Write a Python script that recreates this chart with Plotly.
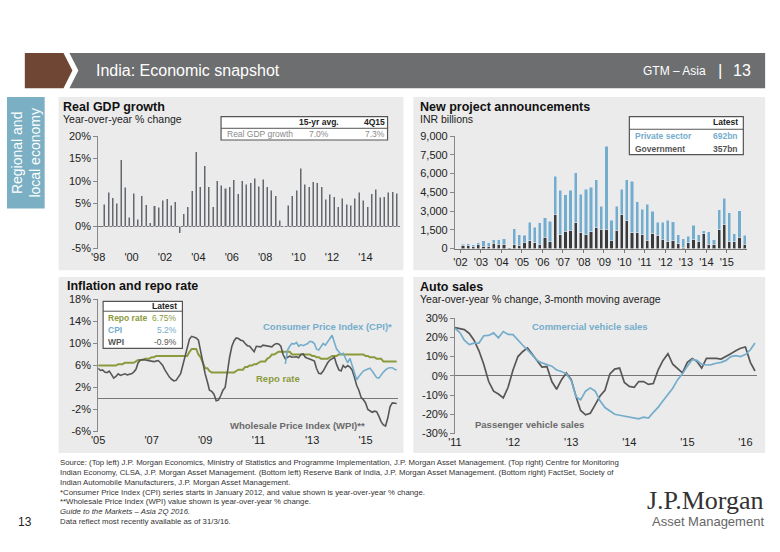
import pandas as pd
import plotly.graph_objects as go

W, H = 780, 552
FONT = "Liberation Sans, Arial, sans-serif"

# ------------------------------------------------------------------ data
gdp_quarters = [str(p) for p in pd.period_range("1998Q2", "2015Q4", freq="Q")]
gdp_growth = [4.9, 7.5, 6.3, 5.1, 14.7, 8.6, 2.0, 7.3, 1.5, 6.7,
              4.8, 0.8, 4.5, 4.2, 5.7, 6.1, 4.6, 5.4, -1.6, 2.7,
              4.3, 7.9, 16.5, 8.7, 13.4, 8.8, 4.3, 10.1, 9.1, 8.4,
              8.8, 10.3, 7.2, 10.1, 9.3, 9.6, 10.6, 8.9, 10.4, 8.7,
              8.0, 6.7, 1.3, 0.0, 4.6, 6.7, 8.0, 12.9, 9.3, 8.7,
              9.9, 9.6, 8.7, 6.0, 7.1, 6.5, 4.3, 6.2, 4.9, 4.6,
              6.2, 7.5, 5.8, 4.3, 7.2, 8.2, 6.4, 6.5, 7.5, 7.6, 7.3]
gdp_xtick_years = ["1998", "2000", "2002", "2004", "2006", "2008", "2010", "2012", "2014"]
gdp_xtick_text = ["'98", "'00", "'02", "'04", "'06", "'08", "'10", "'12", "'14"]
gdp_ytick_vals = [-5, 0, 5, 10, 15, 20]
gdp_ytick_text = ["-5%", "0%", "5%", "10%", "15%", "20%"]

proj_quarters = [str(p) for p in pd.period_range("2002Q1", "2015Q4", freq="Q")]
proj_government = [250, 220, 150, 300, 200, 200, 420, 350, 350, 50,
                   350, 250, 500, 620, 450, 300, 900, 550, 2750, 1120,
                   1400, 1450, 2050, 1250, 1100, 1350, 1650, 1550, 1550, 620,
                   1450, 2700, 2220, 1250, 1250, 1120, 650, 1200, 1050, 750,
                   600, 620, 400, 100, 450, 720, 600, 1200, 350, 300,
                   1500, 1950, 550, 550, 900, 357]
proj_private = [100, 180, 150, 150, 420, 270, 300, 370, 450, 30,
                1250, 850, 550, 1480, 1270, 1750, 1580, 1620, 3050, 3530,
                2900, 3200, 4000, 3100, 3650, 3570, 3850, 1830, 6650, 1650,
                1930, 2050, 3280, 4150, 2500, 2030, 2900, 1800, 1050, 1350,
                1650, 1530, 700, 680, 550, 1160, 500, 220, 1000, 420,
                1600, 2070, 2300, 630, 2120, 692]
proj_xtick_years = [str(y) for y in range(2002, 2016)]
proj_xtick_text = ["'02", "'03", "'04", "'05", "'06", "'07", "'08", "'09", "'10", "'11",
                   "'12", "'13", "'14", "'15"]
proj_ytick_vals = [0, 1500, 3000, 4500, 6000, 7500, 9000]
proj_ytick_text = ["0", "1,500", "3,000", "4,500", "6,000", "7,500", "9,000"]

infl_start, infl_end = "2005-01", "2016-03"
repo_rate = [6.0, 6.0, 6.0, 6.0, 6.0, 6.0, 6.0, 6.0, 6.0, 6.25, 6.25, 6.25,
             6.5, 6.5, 6.5, 6.5, 6.5, 6.75, 7.0, 7.0, 7.0, 7.25, 7.25, 7.25,
             7.5, 7.5, 7.75, 7.75, 7.75, 7.75, 7.75, 7.75, 7.75, 7.75, 7.75, 7.75,
             7.75, 7.75, 7.75, 7.75, 7.75, 8.5, 9.0, 9.0, 9.0, 8.0, 7.5, 6.5,
             5.5, 5.5, 5.0, 4.75, 4.75, 4.75, 4.75, 4.75, 4.75, 4.75, 4.75, 4.75,
             4.75, 4.75, 5.0, 5.25, 5.25, 5.25, 5.75, 5.75, 6.0, 6.0, 6.25, 6.25,
             6.5, 6.75, 6.75, 6.75, 7.25, 7.5, 8.0, 8.0, 8.25, 8.5, 8.5, 8.5,
             8.5, 8.5, 8.5, 8.0, 8.0, 8.0, 8.0, 8.0, 8.0, 8.0, 8.0, 8.0,
             7.75, 7.75, 7.5, 7.5, 7.25, 7.25, 7.25, 7.25, 7.5, 7.75, 7.75, 7.75,
             8.0, 8.0, 8.0, 8.0, 8.0, 8.0, 8.0, 8.0, 8.0, 8.0, 8.0, 8.0,
             7.75, 7.75, 7.5, 7.5, 7.5, 7.25, 7.25, 7.25, 6.75, 6.75, 6.75, 6.75,
             6.75, 6.75, 6.75]
wpi = [5.5, 5.1, 5.2, 4.8, 4.7, 5.0, 4.4, 3.7, 4.0, 4.5, 4.2, 4.4,
       4.5, 4.3, 4.4, 4.5, 4.8, 5.3, 6.5, 7.0, 7.1, 7.0, 6.9, 6.8,
       6.8, 6.7, 6.8, 6.9, 6.5, 6.0, 5.2, 4.5, 3.9, 3.5, 3.2, 3.3,
       3.8, 4.5, 6.0, 7.8, 9.0, 10.8, 11.3, 11.2, 11.0, 10.6, 8.5, 6.0,
       4.5, 3.0, 1.5, 1.3, 0.8, -0.4, -0.3, 0.5, 1.5, 2.0, 5.0, 7.5,
       9.5, 10.5, 11.0, 10.9, 10.6, 10.5, 10.0, 9.6, 9.5, 9.0, 8.5, 9.5,
       9.5, 9.4, 9.7, 9.6, 9.5, 9.5, 9.4, 9.8, 10.0, 9.9, 9.5, 8.0,
       7.2, 7.5, 7.7, 7.5, 7.6, 7.6, 7.4, 8.0, 8.1, 7.5, 7.3, 7.2,
       7.0, 6.8, 5.5, 4.6, 4.5, 5.0, 5.8, 6.5, 7.0, 7.3, 7.5, 6.2,
       5.2, 5.0, 6.0, 5.6, 6.0, 5.7, 5.2, 3.9, 2.4, 1.5, 0.2, -0.2,
       -0.8, -2.0, -2.3, -2.5, -2.3, -2.4, -3.2, -4.2, -4.8, -5.0, -3.5, -1.5,
       -0.8, -0.9, -0.9]
cpi_start = "2012-01"
cpi = [6.3, 8.8, 9.5, 10.0, 9.9, 10.2, 9.5, 9.8, 9.6, 9.8, 10.0, 10.4,
       10.3, 10.0, 9.0, 8.8, 9.5, 10.0, 9.7, 10.3, 10.8, 11.5, 10.2, 9.0,
       8.5, 8.0, 8.2, 7.4, 6.5, 7.3, 6.0, 4.5, 3.4, 4.0, 4.6, 5.0,
       5.2, 5.3, 5.5, 5.0, 4.5, 3.8, 3.7, 4.3, 4.8, 5.2, 5.5, 5.6,
       5.6, 5.3, 5.2]
infl_xtick_years = ["2005", "2007", "2009", "2011", "2013", "2015"]
infl_xtick_text = ["'05", "'07", "'09", "'11", "'13", "'15"]
infl_ytick_vals = [-6, -2, 2, 6, 10, 14, 18]
infl_ytick_text = ["-6%", "-2%", "2%", "6%", "10%", "14%", "18%"]

auto_start, auto_end = "2011-01", "2016-03"
commercial_vehicles = [24.7, 22.5, 18.5, 16.2, 17.0, 17.0, 20.8, 21.0, 22.3, 19.7, 23.0, 21.5,
                       21.4, 18.3, 16.0, 13.5, 11.0, 8.0, 6.7, 6.0, 5.0, 3.0, 2.2, 1.0,
                       -2.5, -11.0, -12.5, -8.0, -6.3, -8.0, -13.0, -16.5, -18.5, -20.0, -20.5, -21.0,
                       -21.5, -22.0, -22.4, -21.5, -22.0, -19.0, -16.4, -13.0, -9.8, -6.5, -2.0, 1.0,
                       5.0, 8.5, 8.0, 6.0, 5.6, 5.8, 6.5, 7.0, 8.0, 10.0, 10.5, 10.0,
                       11.0, 13.5, 17.0]
passenger_vehicles = [25.0, 24.3, 24.0, 22.0, 18.5, 13.0, 6.0, -3.0, -8.0, -9.5, -11.5, -6.0,
                      3.0, 10.0, 12.5, 14.5, 11.0, 7.5, 4.5, 4.8, -3.0, -7.0, -2.0, 1.5,
                      -2.0, -11.0, -18.0, -20.3, -19.5, -15.0, -10.5, -7.5, 1.0, 3.5, 4.0, -3.5,
                      -5.5, -6.0, -3.0, -3.0, -4.5, -4.0, 3.0, 8.0, 11.5, 6.0, 3.5, 1.5,
                      7.0, 9.0, 7.5, 4.0, 9.0, 9.2, 9.0, 8.7, 10.0, 11.5, 13.0, 14.3,
                      15.0, 7.0, 2.5]
auto_xtick_years = ["2011", "2012", "2013", "2014", "2015", "2016"]
auto_xtick_text = ["'11", "'12", "'13", "'14", "'15", "'16"]
auto_ytick_vals = [-30, -20, -10, 0, 10, 20, 30]
auto_ytick_text = ["-30%", "-20%", "-10%", "0%", "10%", "20%", "30%"]

gdp_table = {"header": ["15-yr avg.", "4Q15"], "row": ["Real GDP growth", "7.0%", "7.3%"]}
proj_latest = {"Private sector": "692bn", "Government": "357bn"}
infl_latest = {"Repo rate": "6.75%", "CPI": "5.2%", "WPI": "-0.9%"}

footer_lines = [
    "Source: (Top left) J.P. Morgan Economics, Ministry of Statistics and Programme Implementation, J.P. Morgan Asset Management. (Top right) Centre for Monitoring",
    "Indian Economy, CLSA, J.P. Morgan Asset Management. (Bottom left) Reserve Bank of India, J.P. Morgan Asset Management. (Bottom right) FactSet, Society of",
    "Indian Automobile Manufacturers, J.P. Morgan Asset Management.",
    "*Consumer Price Index (CPI) series starts in January 2012, and value shown is year-over-year % change.",
    "**Wholesale Price Index (WPI) value shown is year-over-year % change.",
    "<i>Guide to the Markets \u2013 Asia 2Q 2016.</i>",
    "Data reflect most recently available as of 31/3/16.",
]

# ------------------------------------------------------------------ colours
BLUE = "#74adcc"
OLIVE = "#8b9a3c"
DARK = "#575757"
GDPBAR = "#676767"
GOV = "#3a3a3a"
PANEL = "#ebebeb"


def qmid(q):
    p = pd.Period(q, freq="Q")
    return p.start_time + (p.end_time - p.start_time) / 2


def X(p):
    return p / W


def Y(p):
    return 1 - p / H


gdp_x = [qmid(q) for q in gdp_quarters]
proj_x = [qmid(q) for q in proj_quarters]
infl_x = pd.date_range(infl_start, infl_end, freq="MS")
cpi_x = pd.date_range(cpi_start, infl_end, freq="MS")
auto_x = pd.date_range(auto_start, auto_end, freq="MS")

DAY = 86400000

fig = go.Figure()
fig.add_trace(go.Bar(x=gdp_x, y=gdp_growth, marker_color=GDPBAR, width=44 * DAY,
                     xaxis="x", yaxis="y", showlegend=False))
fig.add_trace(go.Bar(x=proj_x, y=proj_government, marker_color=GOV, width=56 * DAY,
                     xaxis="x2", yaxis="y2", showlegend=False))
fig.add_trace(go.Bar(x=proj_x, y=proj_private, marker_color=BLUE, width=56 * DAY,
                     xaxis="x2", yaxis="y2", showlegend=False))
fig.add_trace(go.Scatter(x=infl_x, y=repo_rate, mode="lines", line=dict(color=OLIVE, width=2),
                         xaxis="x3", yaxis="y3", showlegend=False))
fig.add_trace(go.Scatter(x=infl_x, y=wpi, mode="lines", line=dict(color=DARK, width=1.6),
                         xaxis="x3", yaxis="y3", showlegend=False))
fig.add_trace(go.Scatter(x=cpi_x, y=cpi, mode="lines", line=dict(color=BLUE, width=1.6),
                         xaxis="x3", yaxis="y3", showlegend=False))
fig.add_trace(go.Scatter(x=auto_x, y=passenger_vehicles, mode="lines", line=dict(color=DARK, width=1.7),
                         xaxis="x4", yaxis="y4", showlegend=False))
fig.add_trace(go.Scatter(x=auto_x, y=commercial_vehicles, mode="lines", line=dict(color=BLUE, width=1.7),
                         xaxis="x4", yaxis="y4", showlegend=False))

tickfont = dict(family=FONT, size=11, color="#222")


def xax(dom, rng, years, texts, anchor, line=False):
    return dict(domain=[X(dom[0]), X(dom[1])], range=rng, type="date",
                tickmode="array", tickvals=[y + "-01-01" for y in years], ticktext=texts,
                tickfont=tickfont, showgrid=False, zeroline=False,
                showline=line, linecolor="#777", linewidth=1, ticks="outside" if line else "",
                ticklen=3, tickcolor="#777", anchor=anchor, fixedrange=True)


def yax(dom, rng, vals, texts, anchor, zero=True):
    return dict(domain=[Y(dom[1]), Y(dom[0])], range=rng, tickmode="array",
                tickvals=vals, ticktext=texts,
                tickfont=tickfont, showgrid=False, zeroline=zero, zerolinecolor="#777",
                zerolinewidth=1, showline=True, linecolor="#888", linewidth=1, ticks="outside",
                ticklen=4, tickcolor="#888", anchor=anchor, fixedrange=True)


fig.update_layout(
    width=W, height=H, margin=dict(l=0, r=0, t=0, b=0), autosize=False,
    paper_bgcolor="white", plot_bgcolor="rgba(0,0,0,0)", barmode="stack",
    font=dict(family=FONT),
    xaxis=xax((92, 397), ["1998-01-01", "2016-02-05"], gdp_xtick_years, gdp_xtick_text, "y"),
    yaxis=yax((133, 248), [-5, 20], gdp_ytick_vals, gdp_ytick_text, "x"),
    xaxis2=xax((452, 747), ["2001-09-24", "2016-01-01"], proj_xtick_years, proj_xtick_text, "y2", line=True),
    yaxis2=yax((133, 248), [0, 9000], proj_ytick_vals, proj_ytick_text, "x2", zero=False),
    xaxis3=xax((92, 395), ["2005-01-01", "2016-03-25"], infl_xtick_years, infl_xtick_text, "y3"),
    yaxis3=yax((300, 435), [-6, 18], infl_ytick_vals, infl_ytick_text, "x3"),
    xaxis4=xax((452, 757), ["2011-01-01", "2016-03-15"], auto_xtick_years, auto_xtick_text, "y4"),
    yaxis4=yax((319, 437), [-30, 30], auto_ytick_vals, auto_ytick_text, "x4"),
)

shapes = []


def rect(x0, y0, x1, y1, fill, line=None, layer="below", lw=1):
    shapes.append(dict(type="rect", xref="paper", yref="paper", x0=X(x0), x1=X(x1), y0=Y(y1), y1=Y(y0),
                       fillcolor=fill, line=dict(color=line or fill, width=lw if line else 0), layer=layer))


def hline(x0, x1, y, color="#999", w=1):
    shapes.append(dict(type="line", xref="paper", yref="paper", x0=X(x0), x1=X(x1), y0=Y(y), y1=Y(y),
                       line=dict(color=color, width=w), layer="above"))


def poly(pts, fill):
    d = "M " + " L ".join("%f,%f" % (X(a), Y(b)) for a, b in pts) + " Z"
    shapes.append(dict(type="path", xref="paper", yref="paper", path=d, fillcolor=fill,
                       line=dict(width=0), layer="below"))


# header
poly([(18, 48), (57, 48), (66, 66), (57, 84), (18, 84)], "#6e4633")
poly([(63, 48), (765, 48), (765, 84), (63, 84), (72, 66)], "#6d6e70")
# side tab
rect(0, 93, 38, 207, "#7aafc4")
# panels
rect(52, 93, 400, 270, PANEL)
rect(410, 93, 765, 270, PANEL)
rect(52, 277, 400, 457, PANEL)
rect(410, 277, 765, 457, PANEL)
# tables
rect(216, 113, 384, 137, "white", "#555", "above", 1.2)
hline(216, 384, 125, "#555", 1)
rect(628, 113, 743, 152, "white", "#555", "above", 1.2)
hline(628, 743, 126, "#555", 1)
rect(97, 302, 177, 350, "white", "#555", "above", 1.2)
hline(97, 177, 312, "#555", 1)

annotations = []


def txt(x, y, s, size=10, color="#222", bold=False, xanchor="left", family=FONT, angle=0):
    if bold:
        s = "<b>%s</b>" % s
    annotations.append(dict(x=X(x), y=Y(y), xref="paper", yref="paper", text=s, showarrow=False,
                            xanchor=xanchor, yanchor="middle", textangle=angle, align="center",
                            borderpad=0,
                            font=dict(size=size, color=color, family=family)))


# header texts
txt(89, 66, "India: Economic snapshot", 16, "white")
txt(706, 66, "GTM \u2013 Asia", 12, "white", xanchor="right")
txt(719, 66, "|", 17, "white", xanchor="center")
txt(742, 66, "13", 16, "white", xanchor="center")
txt(19, 150, "Regional and<br>local economy", 14, "white", xanchor="center", angle=-90)

# titles
txt(56, 103, "Real GDP growth", 12.5, "#111", True)
txt(56, 116, "Year-over-year % change", 10.5, "#222")
txt(416, 103, "New project announcements", 12.5, "#111", True)
txt(416, 116, "INR billions", 10.5, "#222")
txt(60, 286, "Inflation and repo rate", 12.5, "#111", True)
txt(416, 287, "Auto sales", 12.5, "#111", True)
txt(416, 300, "Year-over-year % change, 3-month moving average", 10.5, "#222")

# GDP table
txt(315, 119, gdp_table["header"][0], 8.5, "#222", True, "center")
txt(371, 119, gdp_table["header"][1], 8.5, "#222", True, "center")
txt(221, 131, gdp_table["row"][0], 8.5, "#8a8a8a")
txt(315, 131, gdp_table["row"][1], 8.5, "#8a8a8a", xanchor="center")
txt(371, 131, gdp_table["row"][2], 8.5, "#8a8a8a", xanchor="center")

# project table
txt(739, 119, "Latest", 8.5, "#222", True, "right")
pcol = {"Private sector": BLUE, "Government": "#555"}
for i, (k, v) in enumerate(proj_latest.items()):
    txt(633, 133 + 13 * i, k, 8.5, pcol[k], True)
    txt(739, 133 + 13 * i, v, 8.5, pcol[k], True, "right")

# inflation table
txt(173, 307, "Latest", 8.5, "#222", True, "right")
icol = {"Repo rate": OLIVE, "CPI": BLUE, "WPI": "#555"}
for i, (k, v) in enumerate(infl_latest.items()):
    txt(101, 318.5 + 12.5 * i, k, 8.5, icol[k], True)
    txt(173, 318.5 + 12.5 * i, v, 8.5, icol[k], False, "right")

# in-chart labels
txt(323, 328, "Consumer Price Index (CPI)*", 9.5, BLUE, True, "center")
txt(273, 381, "Repo rate", 9.5, OLIVE, True, "center")
txt(293, 429, "Wholesale Price Index (WPI)**", 9.5, "#6a6a6a", True, "center")
txt(588, 328, "Commercial vehicle sales", 9.5, BLUE, True, "center")
txt(527, 428, "Passenger vehicle sales", 9.5, "#6a6a6a", True, "center")

# footer
for i, line in enumerate(footer_lines):
    txt(52, 467 + 10 * i, line, 7.8, "#333")
txt(18, 527, "13", 12, "#222", xanchor="center")
txt(765, 505, "J.P.Morgan", 26, "#333", xanchor="right", family="Liberation Serif, DejaVu Serif, serif")
txt(765, 527, "Asset Management", 13, "#666", xanchor="right")

fig.update_layout(shapes=shapes, annotations=annotations)
fig.write_html("out.html", config={"displayModeBar": False, "staticPlot": True},
               post_script="document.body.style.margin='0px';document.body.style.overflow='hidden';")
